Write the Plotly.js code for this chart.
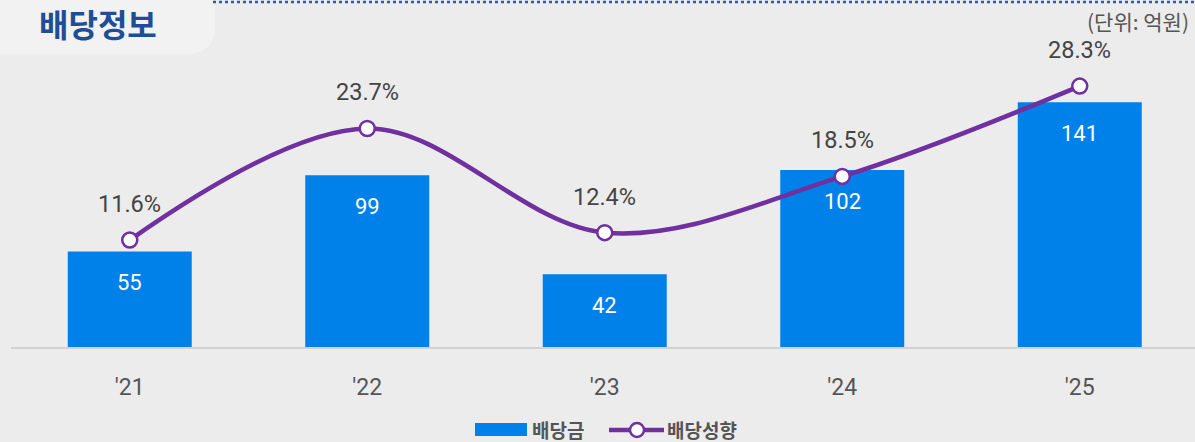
<!DOCTYPE html>
<html>
<head>
<meta charset="utf-8">
<script src="https://cdn.plot.ly/plotly-3.0.1.min.js"></script>
<style>
html,body{margin:0;padding:0;background:#ececec;}
#chart{width:1195px;height:442px;}
</style>
</head>
<body>
<div id="chart"></div>
<script>
// ---- data ----
const years = ["'21", "'22", "'23", "'24", "'25"];
const dividend = [55, 99, 42, 102, 141];          // 배당금 (억원)
const payoutRatio = [11.6, 23.7, 12.4, 18.5, 28.3]; // 배당성향 (%)
const seriesNames = ["배당금", "배당성향"];
const chartTitle = "배당정보";
const unitLabel = "(단위: 억원)";

// ---- layout geometry ----
const W = 1195, H = 442;
const mL = 11, mR = 0, mT = 40, mB = 95;
const pw = W - mL - mR, ph = H - mT - mB;
const px2x = p => (p - mL) / pw;
const py2y = p => (mT + ph - p) / ph;

const FONT = "Roboto, 'Noto Sans CJK KR', sans-serif";
const KFONT = "'Noto Sans CJK KR', Roboto, sans-serif";
const BLUE = '#0080e9';
const PURPLE = '#7030a0';

const barTrace = {
  type: 'bar', x: years, y: dividend, name: seriesNames[0],
  marker: {color: BLUE}, hoverinfo: 'skip', showlegend: false
};
const lineTrace = {
  type: 'scatter', mode: 'lines+markers', x: years, y: payoutRatio, yaxis: 'y2',
  name: seriesNames[1],
  line: {color: PURPLE, width: 4.5, shape: 'spline', smoothing: 1},
  marker: {size: 15, color: '#ffffff', line: {color: PURPLE, width: 2.5}},
  hoverinfo: 'skip', showlegend: false, cliponaxis: false
};

const annotations = [];
years.forEach((c, i) => {
  annotations.push({x: c, y: dividend[i], xref: 'x', yref: 'y', yshift: -31,
    text: String(dividend[i]), showarrow: false,
    font: {family: FONT, size: 22, color: '#ffffff'}});
  annotations.push({x: c, y: payoutRatio[i], xref: 'x', yref: 'y2', yshift: 36,
    text: payoutRatio[i].toFixed(1) + '%', showarrow: false,
    font: {family: FONT, size: 23.5, color: '#444444'}});
});
// title in tab
annotations.push({xref: 'paper', yref: 'paper', x: px2x(98), y: py2y(23),
  text: '<b>' + chartTitle + '</b>', showarrow: false, xanchor: 'center', yanchor: 'middle',
  borderpad: 0,
  font: {family: KFONT, size: 32, color: '#1f4e96'}});
// unit
annotations.push({xref: 'paper', yref: 'paper', x: px2x(1191), y: py2y(21),
  text: unitLabel, showarrow: false, xanchor: 'right', yanchor: 'middle',
  font: {family: KFONT, size: 21, color: '#555555'}});
// legend texts
annotations.push({xref: 'paper', yref: 'paper', x: px2x(531), y: py2y(429.5),
  text: '<b>' + seriesNames[0] + '</b>', showarrow: false, xanchor: 'left', yanchor: 'middle',
  height: 22, borderpad: 0,
  font: {family: KFONT, size: 19, color: '#555555'}});
annotations.push({xref: 'paper', yref: 'paper', x: px2x(666), y: py2y(429.5),
  text: '<b>' + seriesNames[1] + '</b>', showarrow: false, xanchor: 'left', yanchor: 'middle',
  height: 22, borderpad: 0,
  font: {family: KFONT, size: 19, color: '#555555'}});

// tab path (bottom-right rounded)
const r = 28;
const tabPath = 'M ' + px2x(-10) + ',' + py2y(-10) +
  ' L ' + px2x(215) + ',' + py2y(-10) +
  ' L ' + px2x(215) + ',' + py2y(54 - r) +
  ' Q ' + px2x(215) + ',' + py2y(54) + ' ' + px2x(215 - r) + ',' + py2y(54) +
  ' L ' + px2x(-10) + ',' + py2y(54) + ' Z';

const shapes = [
  {type: 'path', xref: 'paper', yref: 'paper', path: tabPath,
   fillcolor: '#f2f2f2', line: {width: 0}, layer: 'below'},
  {type: 'line', xref: 'paper', yref: 'paper', x0: px2x(213), x1: px2x(1195), y0: py2y(2), y1: py2y(2),
   line: {color: '#2b5aa8', width: 2.5, dash: 'dot'}},
  // legend: bar swatch
  {type: 'rect', xref: 'paper', yref: 'paper', x0: px2x(475), x1: px2x(527), y0: py2y(436), y1: py2y(423),
   fillcolor: BLUE, line: {width: 0}},
  // legend: line
  {type: 'line', xref: 'paper', yref: 'paper', x0: px2x(609), x1: px2x(664), y0: py2y(430), y1: py2y(430),
   line: {color: PURPLE, width: 4.5}},
  {type: 'circle', xref: 'paper', yref: 'paper', x0: px2x(630), x1: px2x(644), y0: py2y(437), y1: py2y(423),
   fillcolor: '#ffffff', line: {color: PURPLE, width: 2.5}}
];

const layout = {
  width: W, height: H,
  margin: {l: mL, r: mR, t: mT, b: mB, pad: 0},
  paper_bgcolor: '#ececec', plot_bgcolor: 'rgba(0,0,0,0)',
  showlegend: false,
  bargap: 0.478,
  xaxis: {type: 'category', range: [-0.5, -0.5 + pw / 237.5],
    showline: true, linecolor: '#d2d2d2', linewidth: 2, showgrid: false, zeroline: false,
    ticks: 'outside', ticklen: 18, tickcolor: 'rgba(0,0,0,0)',
    tickfont: {family: FONT, size: 23, color: '#555555'}},
  yaxis: {range: [0, ph / 1.735], visible: false, showgrid: false, zeroline: false, fixedrange: true},
  yaxis2: {range: [0, ph / 9.22], overlaying: 'y', visible: false, showgrid: false, zeroline: false},
  annotations: annotations,
  shapes: shapes,
  font: {family: FONT}
};

Plotly.newPlot('chart', [barTrace, lineTrace], layout, {staticPlot: true, displayModeBar: false});
</script>
</body>
</html>
